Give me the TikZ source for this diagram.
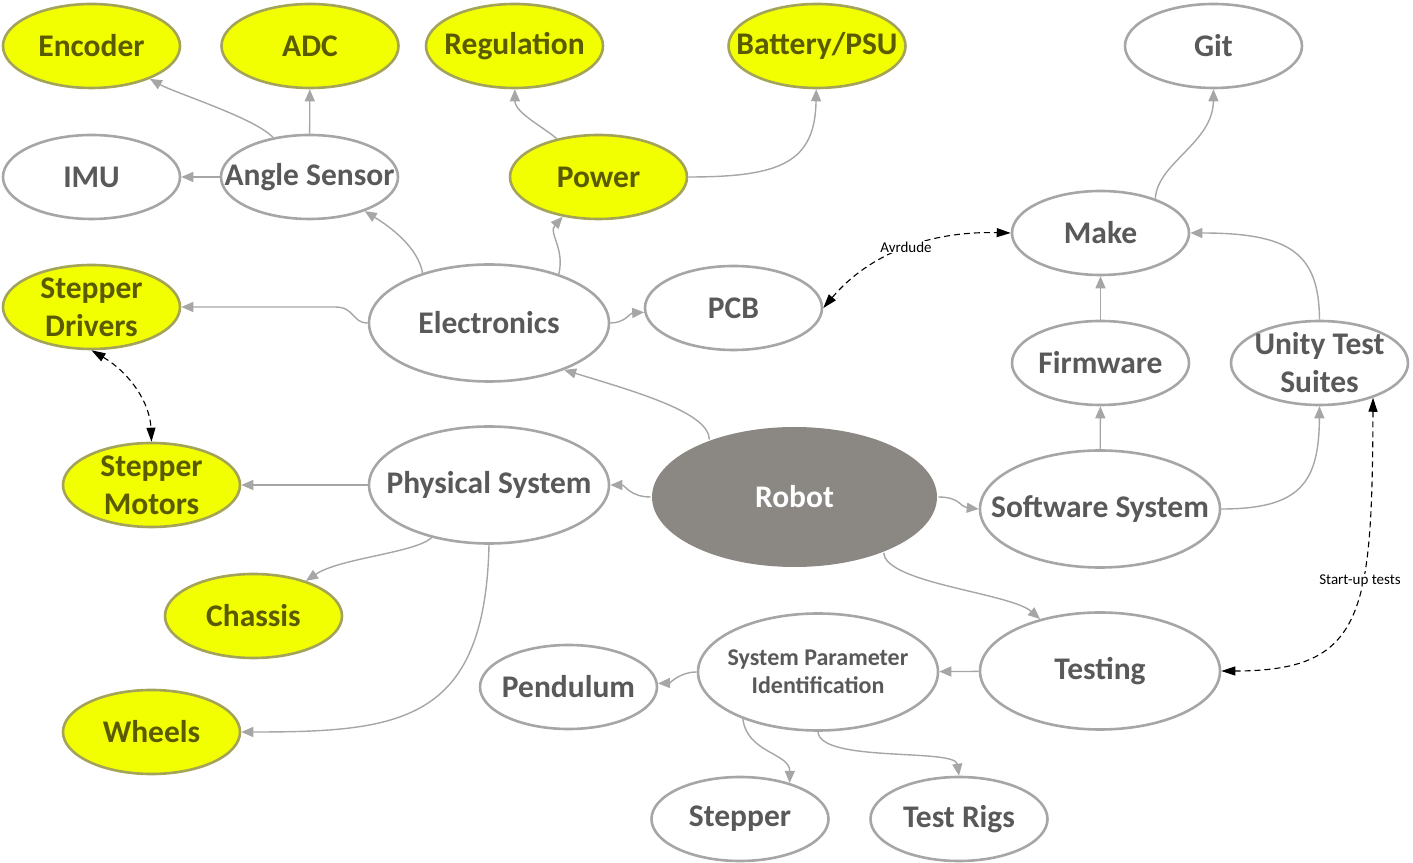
\documentclass[tikz,border=0pt]{standalone}
\usepackage{fontspec}
\setmainfont{Carlito}
\usetikzlibrary{shapes.geometric,arrows.meta}
\definecolor{linegray}{HTML}{A6A6A6}
\definecolor{textgray}{HTML}{595959}
\definecolor{yellowfill}{HTML}{F2FF00}
\definecolor{yellowline}{HTML}{A3A35A}
\definecolor{yellowtext}{HTML}{5A5A00}
\definecolor{robotgray}{HTML}{8B8884}
\tikzset{
  bubble/.style={ellipse,draw=linegray,line width=2.6bp,fill=white,text=textgray,
    font=\bfseries\fontsize{31.5bp}{38bp}\selectfont,align=center,
    inner xsep=-60bp,inner ysep=-30bp,minimum width=177bp,minimum height=84bp},
  bigbubble/.style={bubble,minimum width=240bp,minimum height=117bp},
  hotbubble/.style={bubble,fill=yellowfill,draw=yellowline,text=yellowtext},
  hubbubble/.style={bubble,fill=robotgray,draw=none,text=white,
    minimum width=285bp,minimum height=140bp},
  conn/.style={draw=linegray,line width=1.4bp,->},
  duplex/.style={black,line width=1.1bp,dash pattern=on 6bp off 4bp,<->,
    >={Triangle[length=14bp,width=9bp]}},
  edgetag/.style={fill=white,inner sep=1bp,text=black,font=\fontsize{15bp}{17bp}\selectfont},
}
\begin{document}
\begin{tikzpicture}[>={Triangle[length=12bp,width=10bp]},line join=bevel,]
\useasboundingbox (0bp,0bp) rectangle (1413bp,863bp);
%%
\node (encoder) at (91.5bp,817bp) [hotbubble] {Encoder};
  \node (adc) at (310bp,817bp) [hotbubble] {ADC};
  \node (regulation) at (514.5bp,817bp) [hotbubble] {Regulation};
  \node (battery_psu) at (817bp,817bp) [hotbubble] {Battery/PSU};
  \node (git) at (1213.5bp,817bp) [bubble] {Git};
  \node (imu) at (91.5bp,686bp) [bubble] {IMU};
  \node (angle_sensor) at (309.5bp,686bp) [bubble] {Angle Sensor};
  \node (power) at (598.5bp,686bp) [hotbubble] {Power};
  \node (make) at (1100.5bp,630bp) [bubble] {Make};
  \node (stepper_drivers) at (91.5bp,556bp) [hotbubble] {Stepper\\Drivers};
  \node (electronics) at (489bp,540bp) [bigbubble] {Electronics};
  \node (pcb) at (733.5bp,555bp) [bubble] {PCB};
  \node (firmware) at (1100.5bp,500bp) [bubble] {Firmware};
  \node (unity) at (1319.5bp,500bp) [bubble] {Unity Test\\Suites};
  \node (stepper_motors) at (151.5bp,378bp) [hotbubble] {Stepper\\Motors};
  \node (physical_system) at (489bp,378bp) [bigbubble] {Physical System};
  \node (robot) at (794.5bp,366bp) [hubbubble] {Robot};
  \node (software_system) at (1100bp,354bp) [bigbubble] {Software System};
  \node (chassis) at (253.5bp,247bp) [hotbubble] {Chassis};
  \node (testing) at (1100bp,192bp) [bigbubble] {Testing};
  \node (sys_param) at (818bp,191bp) [bigbubble,font=\bfseries\fontsize{24bp}{28bp}\selectfont] {System Parameter\\Identification};
  \node (pendulum) at (568.5bp,176bp) [bubble] {Pendulum};
  \node (wheels) at (151.5bp,131bp) [hotbubble] {Wheels};
  \node (stepper) at (740bp,44bp) [bubble] {Stepper};
  \node (test_rigs) at (959bp,44bp) [bubble] {Test Rigs};
%
  \draw [conn] (angle_sensor) ..controls (255bp,745bp) and (175bp,770bp)  .. (encoder);
  \draw [conn] (angle_sensor) -- (adc);
  \draw [conn] (angle_sensor) -- (imu);
  \draw [conn] (electronics.143) ..controls (418bp,615bp) and (392bp,635bp)  .. (angle_sensor);
  \draw [conn] (electronics.35) ..controls (565bp,615bp) and (548bp,630bp)  .. (power);
  \draw [conn] (electronics.west) ..controls (352bp,540bp) and (355bp,556bp)  .. (335bp,556bp) -- (stepper_drivers);
  \draw [conn] (electronics.east) ..controls (625bp,540bp) and (630bp,550bp)  .. (pcb);
  \draw [conn] (power) ..controls (545bp,735bp) and (515bp,750bp)  .. (regulation);
  \draw [conn] (power.east) ..controls (780bp,686bp) and (815bp,700bp)  .. (battery_psu);
  \draw [conn] (robot.146) ..controls (709bp,450bp) and (640bp,470bp)  .. (electronics.-32);
  \draw [conn] (robot.west) ..controls (630bp,366bp) and (625bp,378bp)  .. (physical_system.east);
  \draw [conn] (robot.east) ..controls (960bp,366bp) and (960bp,356bp)  .. (software_system.west);
  \draw [conn] (robot.-32) ..controls (885bp,280bp) and (1010bp,270bp)  .. (testing);
  \draw [conn] (physical_system) -- (stepper_motors);
  \draw [conn] (physical_system) ..controls (415bp,310bp) and (340bp,305bp)  .. (chassis);
  \draw [conn] (physical_system.south) ..controls (485bp,140bp) and (400bp,131bp)  .. (wheels.east);
  \draw [conn] (software_system) -- (firmware);
  \draw [conn] (software_system.east) ..controls (1300bp,354bp) and (1319bp,380bp)  .. (unity.south);
  \draw [conn] (firmware) -- (make);
  \draw [conn] (unity.north) ..controls (1319bp,610bp) and (1290bp,630bp)  .. (make.east);
  \draw [conn] (make.32) ..controls (1157bp,700bp) and (1213bp,720bp)  .. (git.south);
  \draw [conn] (testing) -- (sys_param);
  \draw [conn] (sys_param.west) ..controls (680bp,191bp) and (670bp,180bp)  .. (pendulum);
  \draw [conn] (sys_param.212) ..controls (747bp,110bp) and (790bp,110bp)  .. (stepper.36);
  \draw [conn] (sys_param.south) ..controls (820bp,100bp) and (955bp,115bp)  .. (test_rigs.north);
%
  \draw [duplex] (pcb.east) ..controls (870bp,610bp) and (930bp,632bp)  .. (make.west);
  \draw [duplex] (stepper_drivers.south) ..controls (130bp,490bp) and (150bp,460bp)  .. (stepper_motors.north);
  \draw [duplex] (unity.-33) ..controls (1372bp,250bp) and (1365bp,192bp)  .. (testing.east);
  \node (avrdude) at (906bp,616bp) [edgetag] {Avrdude};
  \node (startup) at (1360bp,282bp) [edgetag] {Start-up tests};
%
\end{tikzpicture}
\end{document}
